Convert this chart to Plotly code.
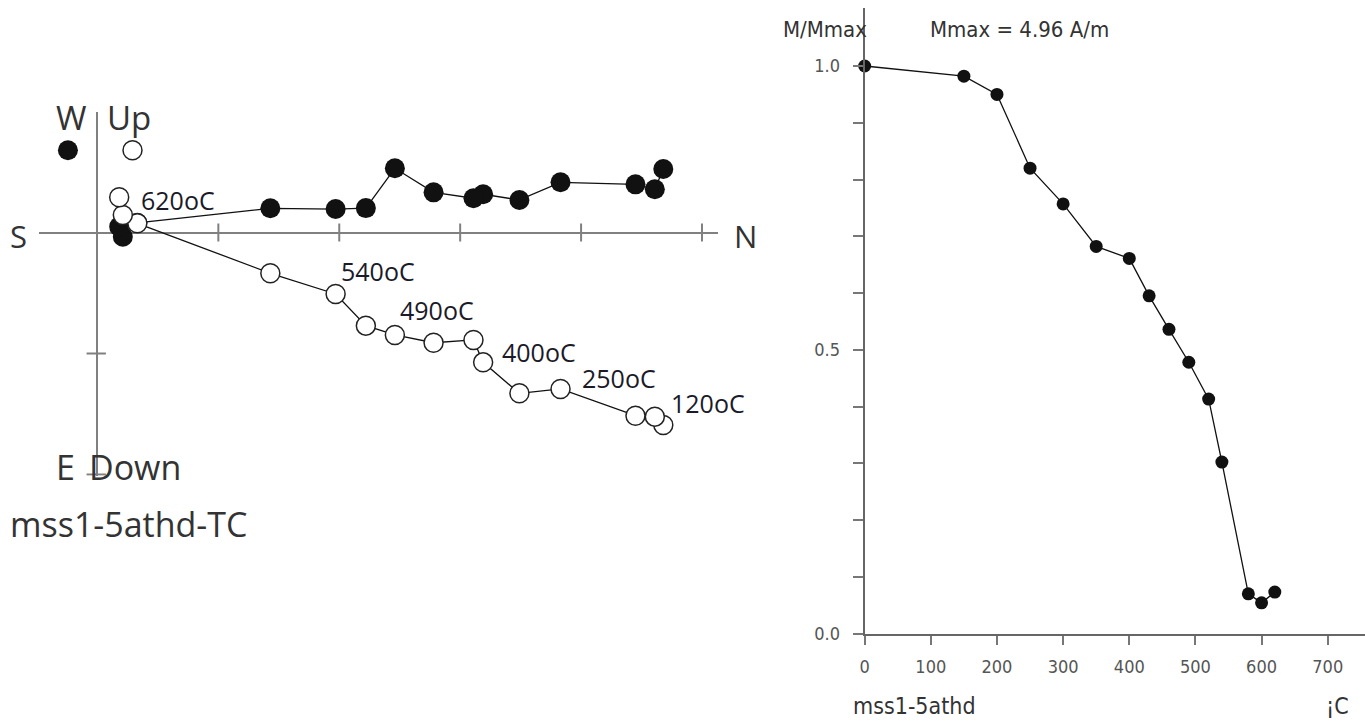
import plotly.graph_objects as go

W, H = 1365, 723
# effective rendered frame used to convert reference pixel positions to paper fractions
H_EFF = 713
W_EFF, X_OFF = 1361, 4.0

# ---------------- data ----------------
TEMPS = [0, 150, 200, 250, 300, 350, 400, 430, 460, 490, 520, 540, 580, 600, 620]
M_NORM = [1.0, 0.982, 0.950, 0.820, 0.757, 0.682, 0.661, 0.595, 0.536, 0.478,
          0.413, 0.302, 0.070, 0.054, 0.073]

# Zijderveld components (same step order as TEMPS), in plot units
NORTH = [4.68, 4.61, 4.45, 3.83, 3.49, 3.19, 3.11, 2.78, 2.46, 2.22, 1.97, 1.43, 0.33, 0.21, 0.18]
WEST = [0.525, 0.357, 0.398, 0.415, 0.269, 0.316, 0.283, 0.332, 0.531, 0.202, 0.194,
        0.200, 0.080, -0.035, 0.048]
UP = [-1.591, -1.522, -1.514, -1.293, -1.329, -1.073, -0.888, -0.911, -0.847, -0.770,
      -0.508, -0.337, 0.076, 0.145, 0.291]

STEP_LABELS = ["620oC", "540oC", "490oC", "400oC", "250oC", "120oC"]
STEP_LABEL_POS = [(0.36, 0.269), (2.012, -0.318), (2.502, -0.640),
                  (3.349, -0.988), (4.010, -1.202), (4.740, -1.409)]

N_TICKS = [1, 2, 3, 4, 5]
V_TICKS = [-1, -2]

X_TICKS = [0, 100, 200, 300, 400, 500, 600, 700]
Y_TICKVALS = [0.0, 0.1, 0.2, 0.3, 0.4, 0.5, 0.6, 0.7, 0.8, 0.9, 1.0]
Y_TICKTEXT = ["0.0", "", "", "", "", "0.5", "", "", "", "", "1.0"]

# ---------------- styling ----------------
LFONT = "Open Sans"
RFONT = "DejaVu Sans Condensed, Liberation Sans Narrow, Roboto Condensed, DejaVu Sans"
AXIS_GRAY = "#808080"


def FX(x):
    return (x - X_OFF) / W_EFF


def FY(y):
    return 1 - y / H_EFF


fig = go.Figure()

# ---- left: Zijderveld diagram ----
fig.add_trace(go.Scatter(
    x=NORTH, y=WEST, mode="lines+markers", xaxis="x", yaxis="y",
    line=dict(color="#111", width=1.3),
    marker=dict(size=20, color="#111", line=dict(width=0)),
    cliponaxis=False, showlegend=False, hoverinfo="skip"))
fig.add_trace(go.Scatter(
    x=NORTH, y=UP, mode="lines+markers", xaxis="x", yaxis="y",
    line=dict(color="#111", width=1.3),
    marker=dict(size=19, color="white", line=dict(width=1.5, color="#222")),
    cliponaxis=False, showlegend=False, hoverinfo="skip"))
# key symbols
fig.add_trace(go.Scatter(
    x=[-0.244], y=[0.68], mode="markers", xaxis="x", yaxis="y",
    marker=dict(size=20, color="#111"), showlegend=False, hoverinfo="skip"))
fig.add_trace(go.Scatter(
    x=[0.29], y=[0.68], mode="markers", xaxis="x", yaxis="y",
    marker=dict(size=19, color="white", line=dict(width=1.5, color="#222")),
    showlegend=False, hoverinfo="skip"))

# ---- right: demagnetisation curve ----
fig.add_trace(go.Scatter(
    x=TEMPS, y=M_NORM, mode="lines+markers", xaxis="x2", yaxis="y2",
    line=dict(color="#111", width=1.3),
    marker=dict(size=13, color="#111"),
    cliponaxis=False, showlegend=False, hoverinfo="skip"))

shapes = []
for t in N_TICKS:
    shapes.append(dict(type="line", xref="x", yref="y", x0=t, x1=t, y0=-0.075, y1=0.075,
                       line=dict(color=AXIS_GRAY, width=2)))
for t in V_TICKS:
    shapes.append(dict(type="line", xref="x", yref="y", x0=-0.09, x1=0.07, y0=t, y1=t,
                       line=dict(color=AXIS_GRAY, width=2)))

ann = []
for txt_, (lx, ly) in zip(STEP_LABELS, STEP_LABEL_POS):
    ann.append(dict(text=txt_, x=lx, y=ly, xref="x", yref="y", xanchor="left",
                    yanchor="middle", showarrow=False, borderpad=0, borderwidth=0,
                    font=dict(family=LFONT, size=25, color="#1a1a28")))


def txt(t, x, y, size, font, color="#333", xa="center"):
    ann.append(dict(text=t, x=FX(x), y=FY(y), xref="paper", yref="paper", xanchor=xa,
                    yanchor="middle", showarrow=False, borderpad=0, borderwidth=0,
                    font=dict(family=font, size=size, color=color)))


txt("W", 70, 118, 33, LFONT)
txt("Up", 106, 118, 33, LFONT, xa="left")
txt("S", 18, 236, 31, LFONT)
txt("N", 745, 236, 31, LFONT)
txt("E", 64.5, 467, 34, LFONT)
txt("Down", 88, 467, 34, LFONT, xa="left")
txt("mss1-5athd-TC", 9, 524, 34, LFONT, xa="left")

txt("M/Mmax", 867, 30, 22, RFONT, xa="right")
txt("Mmax = 4.96 A/m", 930, 30, 22, RFONT, xa="left")
txt("mss1-5athd", 853, 706, 23, RFONT, xa="left")
txt("¡C", 1337, 706, 23, RFONT)

# left axes geometry: origin at (96.5, 232.5) px, 121 px per unit
ox, oy, u = 96.5, 232.5, 121.0
lx0, lx1, ly0, ly1 = 38.3, 718.0, 111.7, 475.7

# right axes geometry
rx0, rx1, ry0, ry1 = 864.3, 1365.0, 8.0, 633.5
xpu, ypu = 0.662, 567.5

fig.update_layout(
    width=W, height=H, margin=dict(l=0, r=0, t=0, b=0),
    paper_bgcolor="white", plot_bgcolor="rgba(0,0,0,0)",
    xaxis=dict(domain=[FX(lx0), FX(lx1)], range=[(lx0 - ox) / u, (lx1 - ox) / u],
               showgrid=False, showticklabels=False, ticks="", showline=False,
               zeroline=True, zerolinecolor=AXIS_GRAY, zerolinewidth=2, fixedrange=True),
    yaxis=dict(domain=[FY(ly1), FY(ly0)], range=[(oy - ly1) / u, (oy - ly0) / u],
               showgrid=False, showticklabels=False, ticks="", showline=False,
               zeroline=True, zerolinecolor=AXIS_GRAY, zerolinewidth=2, fixedrange=True),
    xaxis2=dict(domain=[FX(rx0), 1.0], range=[0, (rx1 - rx0) / xpu], anchor="y2",
                showgrid=False, zeroline=False, showline=True, linecolor="#666", linewidth=2,
                ticks="outside", ticklen=9, tickwidth=2, tickcolor="#777",
                ticklabelstandoff=7,
                tickvals=X_TICKS, tickfont=dict(family=RFONT, size=18, color="#555")),
    yaxis2=dict(domain=[FY(ry1), FY(ry0)], range=[0, (ry1 - ry0) / ypu], anchor="x2",
                showgrid=False, zeroline=False, showline=True, linecolor="#666", linewidth=2,
                ticks="outside", ticklen=10, tickwidth=2, tickcolor="#777",
                ticklabelstandoff=9,
                tickvals=Y_TICKVALS, ticktext=Y_TICKTEXT,
                tickfont=dict(family=RFONT, size=18, color="#555")),
    shapes=shapes, annotations=ann,
)

fig.write_html("out.html")
